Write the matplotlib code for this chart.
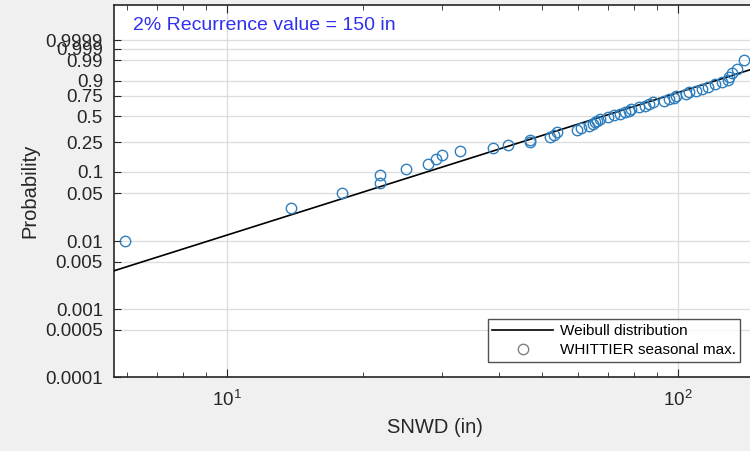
import numpy as np
import matplotlib
matplotlib.use("Agg")
import matplotlib.pyplot as plt
from matplotlib.ticker import FixedLocator, LogLocator, NullFormatter

plt.rcParams["font.family"] = ["Liberation Sans", "DejaVu Sans"]
plt.rcParams["mathtext.fontset"] = "custom"
plt.rcParams["mathtext.rm"] = "Liberation Sans"
plt.rcParams["mathtext.it"] = "Liberation Sans:italic"

# seasonal max snow depth (in), sorted, with Weibull plotting positions
snwd = [5.94, 13.9, 18.0, 21.8, 21.8, 24.9, 27.9, 29.1, 30.0, 32.9,
        38.9, 42.0, 47.0, 47.0, 52.0, 53.0, 54.0, 59.8, 61.0, 63.5,
        64.9, 65.6, 66.0, 67.3, 70.0, 72.0, 74.4, 76.5, 78.0, 78.8,
        82.0, 84.5, 86.2, 88.0, 93.0, 95.5, 98.0, 99.0, 104.4, 106.0,
        109.7, 113.0, 116.6, 121.0, 125.0, 129.0, 130.0, 132.0, 135.0, 140.0]
prob = [0.01, 0.03, 0.05, 0.07, 0.09, 0.11, 0.13, 0.15, 0.17, 0.19,
        0.21, 0.23, 0.25, 0.27, 0.29, 0.31, 0.33, 0.35, 0.37, 0.39,
        0.41, 0.43, 0.45, 0.47, 0.49, 0.51, 0.53, 0.55, 0.57, 0.59,
        0.61, 0.63, 0.65, 0.67, 0.69, 0.71, 0.73, 0.75, 0.77, 0.79,
        0.81, 0.83, 0.85, 0.87, 0.89, 0.91, 0.93, 0.95, 0.97, 0.99]

# fitted Weibull parameters
wb_shape = 2.10
wb_scale = 81.1

ytick_p = [0.0001, 0.0005, 0.001, 0.005, 0.01, 0.05, 0.1, 0.25, 0.5,
           0.75, 0.9, 0.99, 0.999, 0.9999]
ytick_lbl = ["0.0001", "0.0005", "0.001", "0.005", "0.01", "0.05", "0.1",
             "0.25", "0.5", "0.75", "0.9", "0.99", "0.999", "0.9999"]


def wtrans(p):
    p = np.asarray(p, dtype=float)
    return np.log(-np.log(1.0 - p))


fig = plt.figure(figsize=(7.5, 4.51), dpi=100)
fig.patch.set_facecolor("#f0f0f0")
ax = fig.add_axes([114 / 750, 1 - 377 / 451, 641 / 750, 372 / 451])
ax.set_facecolor("white")

xmin, xmax = 5.616, 148.2
ax.set_xscale("log")
ax.set_xlim(xmin, xmax)
ax.set_ylim(wtrans(0.0001), 3.41)

xx = np.geomspace(xmin, xmax, 200)
ax.plot(xx, wb_shape * (np.log(xx) - np.log(wb_scale)), color="black", lw=1.2,
        label="Weibull distribution", zorder=3)
ax.plot(snwd, wtrans(prob), ls="none", marker="o", ms=7.5, mfc="none",
        mec="#2f7fbf", mew=1.0, label="WHITTIER seasonal max.", zorder=4)

ax.yaxis.set_major_locator(FixedLocator(wtrans(ytick_p)))
ax.set_yticklabels(ytick_lbl)
ax.xaxis.set_major_locator(LogLocator(base=10))
ax.xaxis.set_minor_locator(LogLocator(base=10, subs=np.arange(2, 10)))
ax.xaxis.set_minor_formatter(NullFormatter())

ax.grid(True, which="major", color="#dcdcdc", lw=0.9)
ax.set_axisbelow(True)
ax.tick_params(axis="both", which="both", direction="in", colors="#262626",
               labelsize=13.5, top=True, right=False)
ax.tick_params(axis="y", length=5, pad=8)
ax.tick_params(axis="x", which="major", length=6, pad=9)
ax.tick_params(axis="x", which="minor", length=3.5)
for s in ["left", "bottom", "top"]:
    ax.spines[s].set_color("#262626")
    ax.spines[s].set_linewidth(1.2)
ax.spines["right"].set_visible(False)

ax.set_xlabel("SNWD (in)", fontsize=14.5, color="#262626", labelpad=6)
ax.set_ylabel("Probability", fontsize=14.5, color="#262626", labelpad=4)

ax.text(133 / 750, 1 - 25 / 451, "2% Recurrence value = 150 in",
        transform=fig.transFigure, color="#3030f0", fontsize=14, va="center")

leg = ax.legend(loc="lower right", bbox_to_anchor=(740 / 750, 1 - 362 / 451),
                bbox_transform=fig.transFigure, borderaxespad=0, fontsize=11,
                frameon=True, fancybox=False, edgecolor="#262626",
                handlelength=4.0, handletextpad=0.4, borderpad=0.3,
                labelspacing=0.35)
leg.get_frame().set_linewidth(1.0)
leg.legend_handles[1].set_markeredgecolor("#808080")

fig.savefig("out.png", dpi=100, facecolor=fig.get_facecolor())
